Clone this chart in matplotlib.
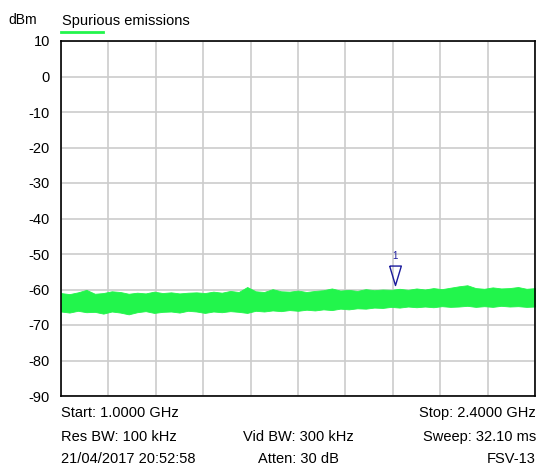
import numpy as np
import matplotlib

matplotlib.use('Agg')

import matplotlib.pyplot as plt
from matplotlib.transforms import offset_copy

# sweep: 1.0 .. 2.4 GHz, trace envelope (dBm)
freq_ghz = np.arange(57) * 0.025 + 1.0
trace_max = [-61.0, -61.3, -60.8, -60.1, -61.2, -61.0, -60.5, -60.7, -61.2, -60.9,
             -61.1, -60.6, -61.0, -60.8, -61.1, -60.9, -60.8, -61.0, -60.6, -60.9,
             -60.4, -60.7, -59.3, -60.5, -60.7, -59.9, -60.5, -60.6, -60.3, -60.7,
             -60.4, -60.2, -59.7, -60.3, -60.1, -60.4, -59.9, -60.2, -60.0, -60.1,
             -59.8, -60.1, -59.7, -60.0, -59.6, -59.9, -59.5, -59.1, -58.8, -59.6,
             -59.8, -59.4, -59.7, -59.6, -59.3, -59.8, -59.6]
trace_min = [-66.2, -66.5, -66.0, -66.4, -66.3, -66.8, -66.2, -66.5, -67.0, -66.4,
             -66.1, -66.6, -66.3, -66.2, -66.5, -66.0, -66.2, -66.6, -66.2, -66.4,
             -66.1, -66.3, -66.6, -66.0, -66.2, -65.9, -66.1, -65.8, -66.0, -65.7,
             -65.9, -65.6, -65.8, -65.4, -65.6, -65.3, -65.4, -65.1, -65.2, -64.9,
             -65.1, -64.8, -65.0, -64.8, -65.0, -64.7, -64.9, -64.8, -64.6, -64.9,
             -64.7, -64.9, -64.6, -64.8, -64.7, -64.9, -64.8]

marker_freq = [1.987]
marker_level = [-60.3]

y_ticks = [10, 0, -10, -20, -30, -40, -50, -60, -70, -80, -90]
x_grid = [1.0 + 0.14 * k for k in range(11)]

trace_color = '#22f54c'

plt.rcParams['font.family'] = ['Liberation Sans', 'DejaVu Sans']
plt.rcParams['axes.unicode_minus'] = False

W, H = 538, 466
fig = plt.figure(figsize=(W / 100., H / 100.), dpi=100)
ax = fig.add_axes([61 / W, 1 - 396 / H, 474 / W, 355 / H])

ax.fill_between(freq_ghz, trace_min, trace_max, color=trace_color,
                lw=0.6, edgecolor=trace_color)

# marker 1, drawn a little above the trace peak
tr = offset_copy(ax.transData, fig=fig, y=4, units='points')
ax.plot(marker_freq, marker_level, transform=tr, linestyle='none',
        marker=[(-0.3, 1), (0.3, 1), (0, 0), (-0.3, 1)], markersize=28,
        markerfacecolor='none', markeredgecolor='#1a1a9c', markeredgewidth=1)
ax.annotate('1', (marker_freq[0], marker_level[0]), xytext=(0, 25),
            textcoords='offset points', ha='center', va='center',
            fontsize=7, color='#1a1a9c')

ax.set_xlim(1.0, 2.4)
ax.set_ylim(-90, 10)
ax.set_xticks(x_grid)
ax.set_yticks(y_ticks)
ax.set_xticklabels([])
ax.tick_params(length=0, labelsize=10.5, pad=8)
ax.grid(True, color='#cccccc', lw=1.2)
ax.set_axisbelow(True)
for s in ax.spines.values():
    s.set_color('black')
    s.set_linewidth(1.2)

fig.text(8 / W, 1 - 20 / H, 'dBm', fontsize=10, va='center')
fig.text(62 / W, 1 - 21 / H, 'Spurious emissions', fontsize=10.5, va='center')
fig.add_artist(plt.Line2D([61 / W, 103 / W], [1 - 32 / H, 1 - 32 / H],
                          color=trace_color, lw=2))

rows = [413, 437, 459]
left_col = ['Start: 1.0000 GHz', 'Res BW: 100 kHz', '21/04/2017 20:52:58']
mid_col = ['', 'Vid BW: 300 kHz', 'Atten: 30 dB']
right_col = ['Stop: 2.4000 GHz', 'Sweep: 32.10 ms', 'FSV-13']
for y, a, b, c in zip(rows, left_col, mid_col, right_col):
    fig.text(61 / W, 1 - y / H, a, fontsize=10.5, va='center', ha='left')
    fig.text(298 / W, 1 - y / H, b, fontsize=10.5, va='center', ha='center')
    fig.text(536 / W, 1 - y / H, c, fontsize=10.5, va='center', ha='right')

fig.savefig('out.png', dpi=100)
